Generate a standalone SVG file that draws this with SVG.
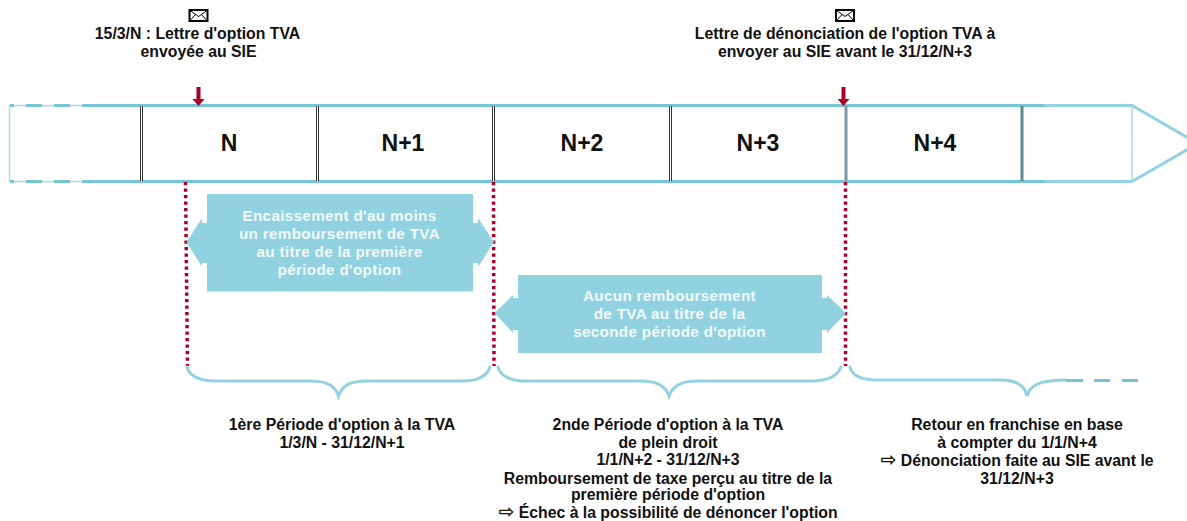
<svg xmlns="http://www.w3.org/2000/svg" width="1187" height="521" viewBox="0 0 1187 521">
<style>
text{font-family:"Liberation Sans",Arial,sans-serif;font-weight:bold;text-anchor:middle;fill:#111}
.lab{font-size:15.800px}
.yr{font-size:23px}
.w{font-size:15.200px;fill:#f2fafc;letter-spacing:.35px}
.ar{font-family:"DejaVu Sans",sans-serif;font-size:19px}
.rail{stroke:#74c6d6;stroke-width:3;fill:none}
.pale{stroke:#93d2e0;stroke-width:3;fill:none}
.thin{stroke:#a5dae5;stroke-width:1.4;fill:none}
.dash{stroke:#74c6d6;stroke-width:3;fill:none}
.div{stroke:#333;stroke-width:3;fill:none}
.divin{stroke:#fff;stroke-width:1;fill:none}
.dot{stroke:#ac0029;stroke-width:3.500;fill:none;stroke-dasharray:3.2 3.300}
.brace{stroke:#93d2e0;stroke-width:3;fill:none;stroke-linecap:round}
.red{fill:#a80029}
.box{fill:#91d2e0}
.env{fill:#fff;stroke:#000;stroke-width:2}
.envl{fill:none;stroke:#000;stroke-width:1}
</style>
<g id="timeline">
<path class="thin" d="M9.500 105.500V181.500M9.500 105.500H98M9.500 181.500H98"/>
<path class="dash" d="M10 105.500H14M26 105.500H42M54 105.500H70M82 105.500H98M10 181.500H14M26 181.500H42M54 181.500H70M82 181.500H98"/>
<path class="rail" d="M98 105.500H1044M98 181.500H1044"/>
<path class="pale" d="M1044 105.500H1132L1198 143.500L1132 181.500H1044"/>
<path class="thin" d="M1132 105.500V181.500"/>
<g>
<path class="div" d="M141.500 106V181M317.500 106V181M493.500 106V181M670.500 106V181"/>
<path class="divin" d="M141.500 106V181M317.500 106V181M493.500 106V181M670.500 106V181"/>
<path d="M846 106V181" stroke="#7d9aa2" stroke-width="3" fill="none"/>
<path d="M1022 106V181" stroke="#5f8892" stroke-width="3" fill="none"/>
</g>
</g>
<g id="year-n"><text class="yr" x="229" y="151">N</text></g>
<g id="year-n1"><text class="yr" x="403" y="151">N+1</text></g>
<g id="year-n2"><text class="yr" x="582" y="151">N+2</text></g>
<g id="year-n3"><text class="yr" x="758" y="151">N+3</text></g>
<g id="year-n4"><text class="yr" x="935" y="151">N+4</text></g>
<g id="connectors">
<path class="dot" d="M185.500 182L187.500 366"/>
<path class="dot" d="M493.500 182L494 366"/>
<path class="dot" d="M845.500 182V366"/>
<path class="red" d="M196.500 87H200.500V99H204.500L198.500 106L192.500 99H196.500Z"/>
<path class="red" d="M841.500 87H845.500V99H849.500L843.500 106L837.500 99H841.500Z"/>
</g>
<g id="letter-1">
<rect class="env" x="189.500" y="10" width="18" height="11"/>
<path class="envl" d="M190 10.500L198.500 16.500L207 10.500M190 20.500L195.500 14.500M207 20.500L201.500 14.500"/>
<text class="lab" x="197.500" y="39">15/3/N : Lettre d'option TVA</text>
<text class="lab" x="198.500" y="57">envoyée au SIE</text>
</g>
<g id="letter-2">
<rect class="env" x="836" y="10" width="18" height="11"/>
<path class="envl" d="M836.500 10.500L845 16.500L853.500 10.500M836.500 20.500L842 14.500M853.500 20.500L848 14.500"/>
<text class="lab" x="845" y="39">Lettre de dénonciation de l'option TVA à</text>
<text class="lab" x="845" y="57">envoyer au SIE avant le 31/12/N+3</text>
</g>
<g id="box-1">
<path class="box" d="M207 194H473V223H478V218L494 242L478 267V263H473V291.500H207V263H202V267L186.500 242L202 218V223H207Z"/>
<text class="w" x="339.500" y="221">Encaissement d'au moins</text>
<text class="w" x="339.500" y="239">un remboursement de TVA</text>
<text class="w" x="339.500" y="257">au titre de la première</text>
<text class="w" x="339.500" y="275">période d'option</text>
</g>
<g id="box-2">
<path class="box" d="M518 275H822V298H827V295L846 313L827 333V330H822V353H518V330H513V333L494.500 313L513 295V298H518Z"/>
<text class="w" x="669.500" y="301">Aucun remboursement</text>
<text class="w" x="669.500" y="319">de TVA au titre de la</text>
<text class="w" x="669.500" y="337">seconde période d'option</text>
</g>
<g id="brace-1"><path class="brace" d="M187 367C189 376 200 381 215 381H310C326 381 335 385 338.500 396C342 385 351 381 367 381H462C477 381 487 376 490 367"/></g>
<g id="brace-2"><path class="brace" d="M498 367C500 376 511 381 526 381H640C656 381 665 385 669 396C673 385 682 381 698 381H812C827 381 838 376 841 367"/></g>
<g id="brace-3"><path class="brace" d="M850 367C852 376 863 380 878 380H1000C1016 380 1025 385 1027 396C1030 385 1040 380 1066 380"/>
<path d="M1066 380.500H1083M1094 380.500H1110M1122 380.500H1138" stroke="#74c6d6" stroke-width="3" fill="none"/></g>
<g id="label-1">
<text class="lab" x="342" y="430">1ère Période d'option à la TVA</text>
<text class="lab" x="342" y="448">1/3/N - 31/12/N+1</text>
</g>
<g id="label-2">
<text class="lab" x="668" y="430">2nde Période d'option à la TVA</text>
<text class="lab" x="668" y="448">de plein droit</text>
<text class="lab" x="668" y="465">1/1/N+2 - 31/12/N+3</text>
<text class="lab" x="668" y="484">Remboursement de taxe perçu au titre de la</text>
<text class="lab" x="668" y="500">première période d'option</text>
<text class="lab" x="668" y="518"><tspan class="ar">⇨</tspan> Échec à la possibilité de dénoncer l'option</text>
</g>
<g id="label-3">
<text class="lab" x="1017" y="430">Retour en franchise en base</text>
<text class="lab" x="1017" y="448">à compter du 1/1/N+4</text>
<text class="lab" x="1017" y="466"><tspan class="ar">⇨</tspan> Dénonciation faite au SIE avant le</text>
<text class="lab" x="1017" y="484">31/12/N+3</text>
</g>
</svg>
